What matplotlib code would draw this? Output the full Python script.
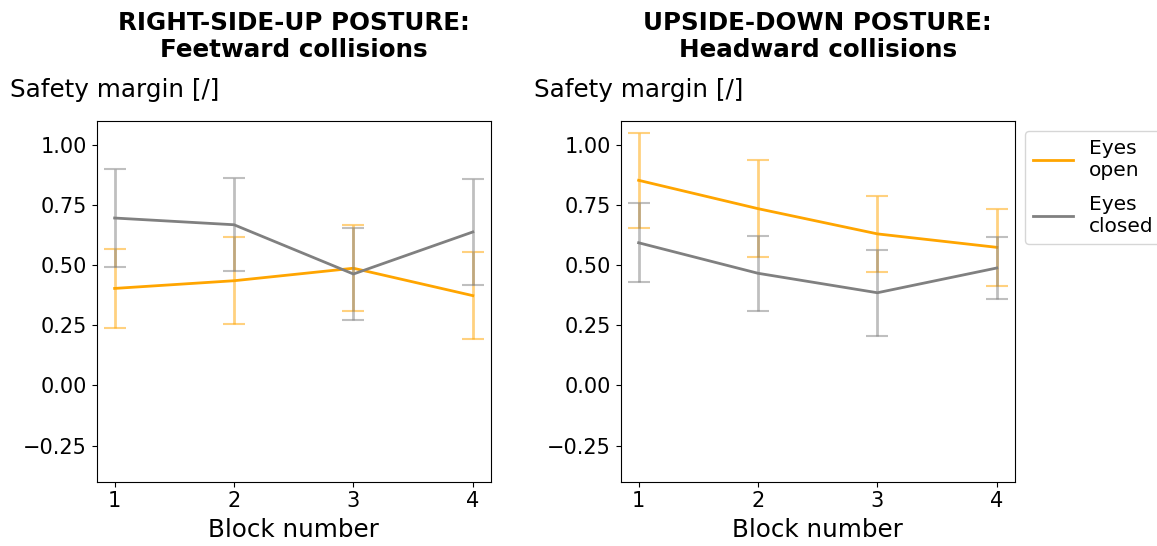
import numpy as np
import matplotlib
matplotlib.use("Agg")
from matplotlib import pyplot as plt

blocks = [1, 2, 3, 4]

# right-side-up posture, feetward collisions
rsu_open = [0.404, 0.436, 0.488, 0.374]
rsu_open_err = [0.166, 0.180, 0.178, 0.180]
rsu_closed = [0.697, 0.669, 0.464, 0.639]
rsu_closed_err = [0.203, 0.194, 0.190, 0.219]

# upside-down posture, headward collisions
usd_open = [0.854, 0.736, 0.631, 0.575]
usd_open_err = [0.197, 0.202, 0.158, 0.161]
usd_closed = [0.594, 0.467, 0.386, 0.489]
usd_closed_err = [0.164, 0.156, 0.180, 0.128]

titles = ["RIGHT-SIDE-UP POSTURE:\nFeetward collisions",
          "UPSIDE-DOWN POSTURE:\nHeadward collisions"]
labels = ["Eyes\nopen", "Eyes\nclosed"]
colors = ["orange", "grey"]


def plt_setp(ax, title, open_m, open_e, closed_m, closed_e):
    for m, e, c, lab in [(open_m, open_e, colors[0], labels[0]),
                         (closed_m, closed_e, colors[1], labels[1])]:
        ax.plot(blocks, m, color=c, linewidth=2, label=lab)
        ax.errorbar(blocks, m, yerr=e, fmt='none', ecolor=c, alpha=0.5,
                    elinewidth=2, capsize=8, capthick=1.5)
    ax.set_title(title, fontsize=17.7, fontweight='bold', pad=46, linespacing=1.2)
    ax.set_ylim(-0.4, 1.1)
    ax.set_xticks(blocks)
    ax.set_yticks([-0.25, 0, 0.25, 0.5, 0.75, 1.0])
    ax.tick_params(labelsize=15)
    ax.set_xlabel("Block number", fontsize=17.7, labelpad=5)
    ax.set_ylabel("Safety margin [/]", fontsize=17.7, rotation=0, ha='left', va='center')
    ax.yaxis.set_label_coords(-0.22, 1.086)


fig, ax = plt.subplots(1, 2, figsize=(11.57, 5.46), dpi=100)
fig.subplots_adjust(left=0.0836, right=0.877, bottom=0.118, top=0.778, wspace=0.33)

plt_setp(ax[0], titles[0], rsu_open, rsu_open_err, rsu_closed, rsu_closed_err)
plt_setp(ax[1], titles[1], usd_open, usd_open_err, usd_closed, usd_closed_err)

ax[1].legend(loc='upper left', bbox_to_anchor=(1, 1), fontsize=14.5,
             handlelength=2.0, labelspacing=0.75)

fig.savefig("out.png")
